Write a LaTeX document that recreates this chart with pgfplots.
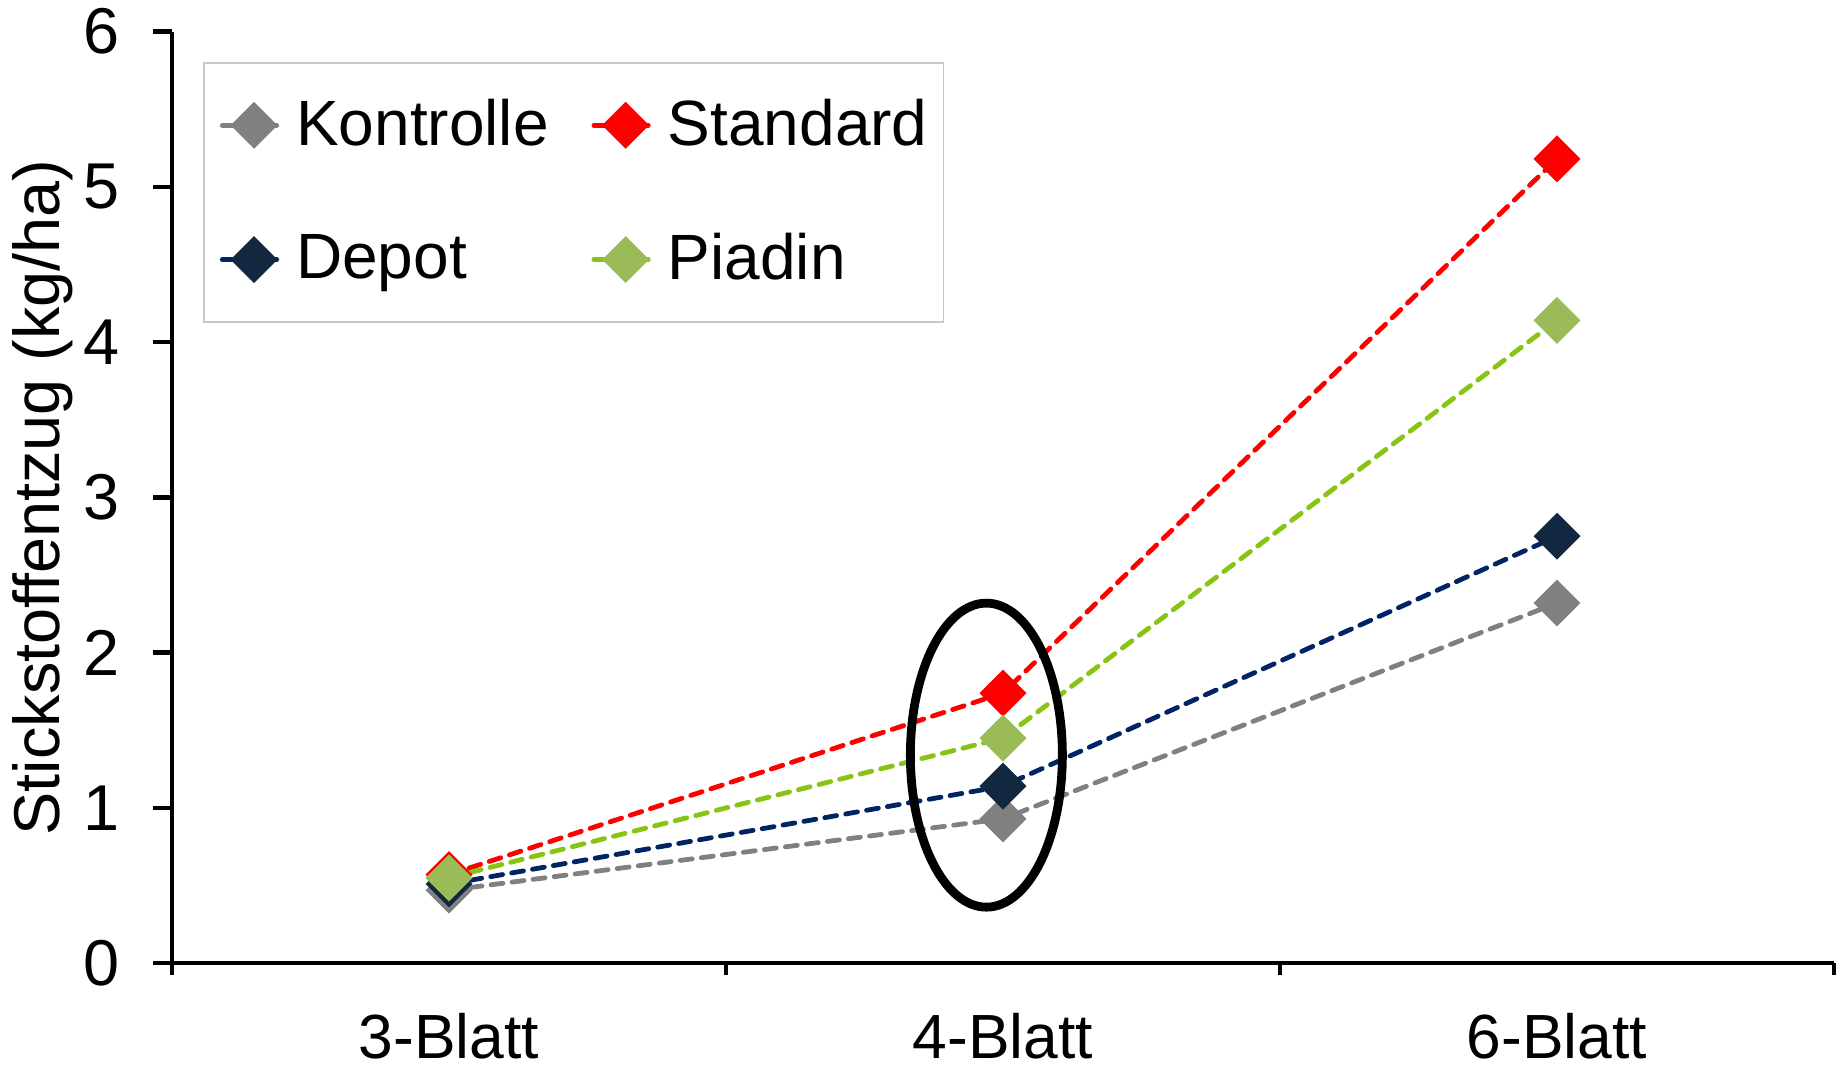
\documentclass[border=0pt]{standalone}
\usepackage{fontspec}
\setmainfont{Liberation Sans}
\usepackage{pgfplots}
\pgfplotsset{compat=1.18}
\usetikzlibrary{calc}
\definecolor{kon}{RGB}{128,128,128}
\definecolor{std}{RGB}{255,0,0}
\definecolor{depl}{RGB}{0,36,100}
\definecolor{depm}{RGB}{18,39,64}
\definecolor{pial}{RGB}{135,196,20}
\definecolor{piam}{RGB}{155,187,89}
\definecolor{legbord}{RGB}{200,200,200}
\begin{document}
\begin{tikzpicture}
\begin{axis}[
  scale only axis,
  width=415.5bp, height=232.9bp,
  xmin=-0.5, xmax=2.5, ymin=0, ymax=6,
  axis x line*=bottom, axis y line*=left,
  axis line style={line width=1.1bp, -},
  xtick={0,1,2},
  xticklabels={3-Blatt,4-Blatt,6-Blatt},
  minor xtick={-0.5,0.5,1.5,2.5},
  ytick={0,1,2,3,4,5,6},
  tick align=outside,
  major x tick style={draw=none},
  minor tick length=3bp,
  major tick length=4.7bp,
  every tick/.style={line width=1.1bp, black},
  tick label style={font=\fontsize{15.6bp}{18bp}\selectfont},
  /pgf/number format/assume math mode=true,
  yticklabel style={inner sep=0pt, xshift=-8.3bp, font=\fontsize{16.2bp}{18bp}\selectfont},
  xticklabel style={inner sep=0pt, yshift=-7.5bp},
  ylabel={Stickstoffentzug (kg/ha)},
  ylabel style={font=\fontsize{16.2bp}{19bp}\selectfont, at={(axis description cs:0,0.5)},
    anchor=south, inner sep=0pt, yshift=24.5bp},
  legend columns=2,
  legend cell align=left,
  legend style={at={(0.0187,0.967)}, anchor=north west, draw=legbord, line width=0.4bp,
    font=\fontsize{16bp}{19bp}\selectfont, inner xsep=2bp, inner ysep=7bp,
    row sep=16.5bp, /tikz/every even column/.append style={column sep=6.7bp}},
  legend image code/.code={
    \path (0cm,0cm);
    \draw[#1, mark repeat=2, mark phase=2] plot coordinates {(2bp,0cm) ($(2bp,0)+(0.28cm,0cm)$) ($(2bp,0)+(0.56cm,0cm)$)};
  },
  every axis plot/.append style={line width=1.2bp, dash pattern=on 3bp off 2.3bp, line cap=round,
    mark=square*, mark size=3.55bp},
]
\addplot[kon, mark options={solid, rotate=45, fill=kon, draw=kon}] coordinates {(0,0.47) (1,0.93) (2,2.32)};
\addlegendentry{Kontrolle}
\addplot[std, mark options={solid, rotate=45, fill=std, draw=std}] coordinates {(0,0.57) (1,1.74) (2,5.18)};
\addlegendentry{Standard}
\addplot[depl, mark options={solid, rotate=45, fill=depm, draw=depm}] coordinates {(0,0.51) (1,1.14) (2,2.75)};
\addlegendentry{Depot}
\addplot[pial, mark options={solid, rotate=45, fill=piam, draw=piam}] coordinates {(0,0.55) (1,1.45) (2,4.14)};
\addlegendentry{Piadin}
\draw[black, line width=2.2bp] (axis cs:0.97,1.34) ellipse [x radius=19bp, y radius=38bp];
\end{axis}
\pgfresetboundingbox
\path[use as bounding box] ($(current axis.south west)+(-43bp,-26.5bp)$) rectangle ($(current axis.north east)+(0.75bp,7.9bp)$);
\end{tikzpicture}
\end{document}
